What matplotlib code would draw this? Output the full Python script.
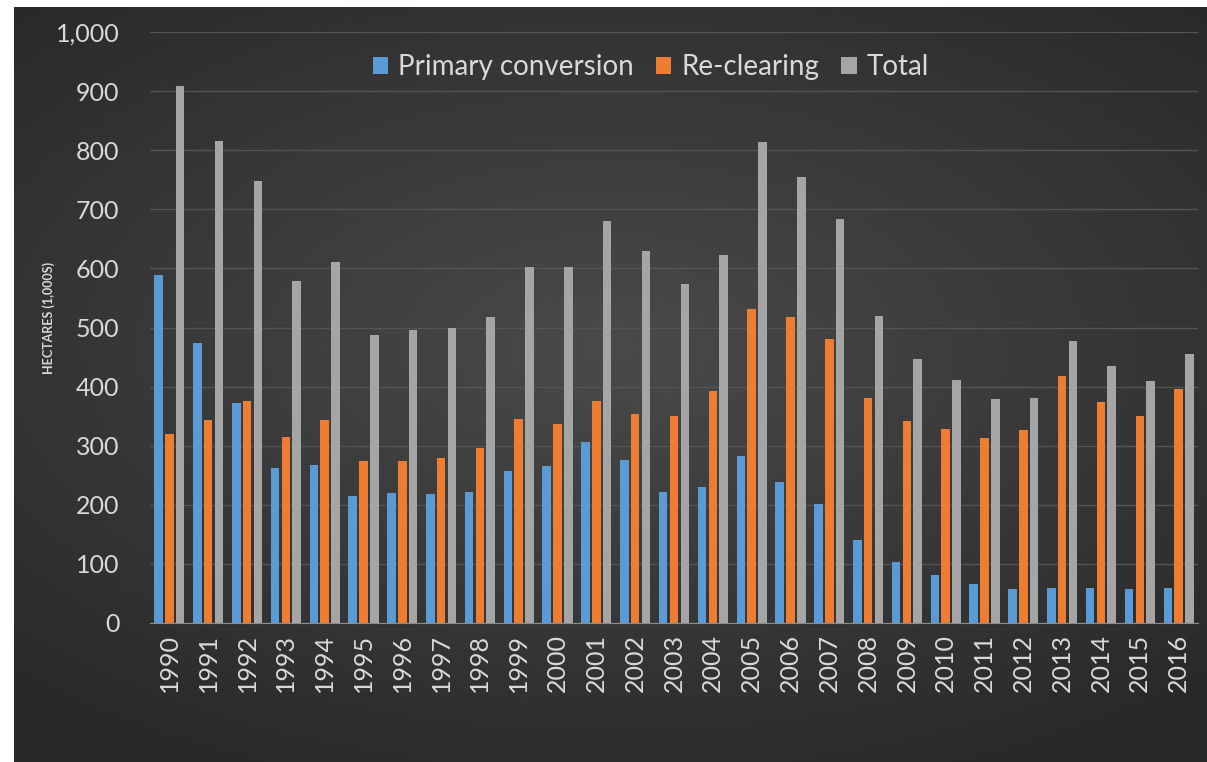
import numpy as np
import matplotlib.pyplot as plt

years = [str(y) for y in range(1990, 2017)]
primary = [588, 473, 372, 262, 268, 215, 220, 218, 222, 258, 265, 306, 275, 221,
           230, 283, 238, 201, 140, 104, 82, 66, 57, 60, 60, 58, 60]
reclearing = [320, 343, 375, 315, 343, 274, 274, 280, 296, 345, 337, 375, 354, 351,
              393, 531, 518, 481, 380, 342, 329, 313, 326, 418, 374, 351, 396]
total = [908, 816, 748, 578, 611, 488, 495, 499, 518, 603, 602, 681, 630, 573,
         622, 814, 755, 683, 519, 446, 412, 379, 381, 478, 435, 409, 455]

plt.rcParams['font.family'] = ['Lato', 'DejaVu Sans']

W, H = 1207, 762
fig = plt.figure(figsize=(W / 100, H / 100), dpi=100)
fig.patch.set_facecolor('white')

# dark radial background, lighter in the middle
bg = fig.add_axes([14 / W, 0, 1 - 14 / W, 1 - 7 / H])
yy, xx = np.mgrid[-1:1:300j, -1:1:500j]
r = np.sqrt((xx * 0.85) ** 2 + ((yy + 0.1) * 1.0) ** 2)
lev = 0.29 - 0.13 * np.clip(r / 1.25, 0, 1)
bg.imshow(np.dstack([lev, lev, lev]), aspect='auto', extent=[0, 1, 0, 1])
bg.axis('off')

ax = fig.add_axes([150 / W, 139 / H, 1048 / W, (623 - 32) / H])
ax.patch.set_alpha(0)

x = np.arange(len(years))
w = 0.22
off = 0.278
ax.bar(x - off, primary, w, color='#5b9bd5', label='Primary conversion', zorder=3)
ax.bar(x, reclearing, w, color='#ed7d31', label='Re-clearing', zorder=3)
ax.bar(x + off, total, w, color='#a5a5a5', label='Total', zorder=3)

ax.set_xlim(-0.5, len(years) - 0.5)
ax.set_ylim(0, 1000)
ax.set_yticks(range(0, 1001, 100))
ax.set_yticklabels([f'{v:,}' for v in range(0, 1001, 100)])
ax.set_xticks(x)
ax.set_xticklabels(years, rotation=90)
ax.tick_params(axis='both', length=0, colors='#d9d9d9', labelsize=18)
ax.tick_params(axis='y', pad=22)
ax.tick_params(axis='x', pad=8)
ax.grid(axis='y', color='#545454', linewidth=1, zorder=0)
for s in ['top', 'right', 'left']:
    ax.spines[s].set_visible(False)
ax.spines['bottom'].set_color('#8c8c8c')
ax.spines['bottom'].set_zorder(4)

fig.text(49 / W, 1 - 318 / H, 'HECTARES (1,000S)', rotation=90, ha='center', va='center',
         fontsize=9, fontweight='bold', color='#d9d9d9')

leg = ax.legend(loc='upper center', bbox_to_anchor=(0.478, 1.005), ncol=3, frameon=False,
                fontsize=20, handlelength=0.55, handleheight=0.55, handletextpad=0.35,
                columnspacing=0.8)
for t in leg.get_texts():
    t.set_color('#d9d9d9')

fig.savefig('out.png', dpi=100, facecolor='white')
